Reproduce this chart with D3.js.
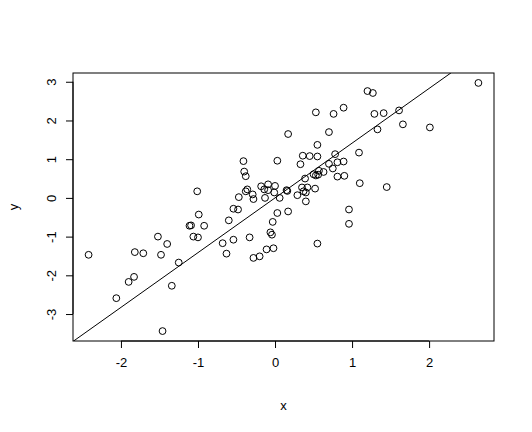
<!DOCTYPE html>
<html>
<head>
<meta charset="utf-8">
<script src="https://cdn.jsdelivr.net/npm/d3@7"></script>
<style>
  body { margin: 0; background: #fff; }
  text { font-family: "Liberation Sans", Arial, sans-serif; }
</style>
</head>
<body>
<script>
const width = 532;
const height = 432;
const margin = {top: 73, right: 38, bottom: 91, left: 73};

// points
const xs = [
  -1.01, -0.99, -1.11, -1.09, -0.92, -1.52, -1.06, -1.00, -1.40, -2.42,
  -1.82, -1.71, -1.48, -1.25, -1.83, -1.90, -1.34, -2.06, -1.46,
  -0.41, 0.03, -0.40, -0.38, -0.36, -0.38, -0.29, -0.28, -0.47, -0.18,
  -0.14, -0.09, -0.09, 0.00, -0.13, -0.01, 0.06, 0.15, 0.16, -0.54,
  -0.48, -0.60, 0.03, 0.17, -0.03, -0.06, -0.04, -0.68, -0.54, -0.33,
  -0.63, -0.11, -0.02, -0.28, -0.20,
  1.20, 1.27, 0.53, 0.76, 0.89, 1.29, 1.41, 1.61, 1.33, 0.70,
  0.17, 0.55, 0.36, 0.45, 0.55, 0.78, 1.09, 0.33, 0.89, 0.81,
  0.70, 0.75, 0.63, 0.57, 0.50, 0.53, 0.56, 0.81, 0.90, 0.39,
  1.10, 1.45, 0.35, 0.42, 0.52, 0.37, 0.40, 0.29, 0.40, 0.96,
  0.96, 0.55, 1.66, 2.01, 2.64
];
const ys = [
  0.17, -0.43, -0.72, -0.71, -0.72, -1.00, -1.00, -1.02, -1.19, -1.47,
  -1.40, -1.43, -1.47, -1.67, -2.04, -2.17, -2.27, -2.59, -3.44,
  0.95, 0.96, 0.68, 0.56, 0.22, 0.17, 0.09, -0.03, 0.02, 0.30,
  0.22, 0.35, 0.20, 0.31, 0.00, 0.14, 0.00, 0.20, 0.18, -0.28,
  -0.30, -0.58, -0.39, -0.35, -0.62, -0.89, -0.95, -1.17, -1.08, -1.02,
  -1.44, -1.33, -1.30, -1.55, -1.51,
  2.76, 2.71, 2.21, 2.17, 2.33, 2.17, 2.19, 2.26, 1.77, 1.70,
  1.65, 1.37, 1.09, 1.08, 1.07, 1.13, 1.17, 0.87, 0.94, 0.92,
  0.88, 0.76, 0.67, 0.70, 0.61, 0.58, 0.60, 0.55, 0.57, 0.50,
  0.38, 0.28, 0.27, 0.27, 0.24, 0.17, 0.14, 0.07, -0.09, -0.30,
  -0.67, -1.18, 1.90, 1.82, 2.97
];
const xTicks = [-2, -1, 0, 1, 2];
const yTicks = [-3, -2, -1, 0, 1, 2, 3];
const lineIntercept = 0;
const lineSlope = 1.414;

const data = xs.map((d, i) => ({x: d, y: ys[i]}));

// R style: 4% padding on each side of the data range
const pad = ([a, b]) => [a - (b - a) * 0.04, b + (b - a) * 0.04];

const x = d3.scaleLinear()
  .domain(pad(d3.extent(xs)))
  .range([margin.left, width - margin.right]);

const y = d3.scaleLinear()
  .domain(pad(d3.extent(ys)))
  .range([height - margin.bottom, margin.top]);

// plain hyphen for negatives, like R
const fmt = d => String(d);

const xAxis = g => g
  .attr("transform", `translate(0,${height - margin.bottom})`)
  .call(d3.axisBottom(x).tickValues(xTicks).tickFormat(fmt).tickSize(7).tickSizeOuter(0))
  .call(g => g.select(".domain").attr("d", `M${x(xTicks[0])},0H${x(xTicks[xTicks.length - 1])}`))
  .call(g => g.selectAll("text").attr("font-size", 13).attr("font-family", "Liberation Sans, Arial, sans-serif")
    .attr("fill", "#000").attr("y", 17));

const yAxis = g => g
  .attr("transform", `translate(${margin.left},0)`)
  .call(d3.axisLeft(y).tickValues(yTicks).tickFormat(fmt).tickSize(7).tickSizeOuter(0))
  .call(g => g.select(".domain").attr("d", `M0,${y(yTicks[0])}V${y(yTicks[yTicks.length - 1])}`))
  .call(g => g.selectAll("text").attr("font-size", 13).attr("font-family", "Liberation Sans, Arial, sans-serif")
    .attr("fill", "#000")
    .attr("x", null)
    .attr("text-anchor", "middle")
    .attr("transform", "translate(-22,0) rotate(-90)")
    .attr("dy", "0.35em"));

const svg = d3.select("body").append("svg")
  .attr("width", width)
  .attr("height", height);

svg.append("defs").append("clipPath").attr("id", "plot-area")
  .append("rect")
  .attr("x", margin.left).attr("y", margin.top)
  .attr("width", width - margin.left - margin.right)
  .attr("height", height - margin.top - margin.bottom);

svg.append("rect")
  .attr("x", margin.left).attr("y", margin.top)
  .attr("width", width - margin.left - margin.right)
  .attr("height", height - margin.top - margin.bottom)
  .attr("fill", "none")
  .attr("stroke", "#000");

svg.append("g").call(xAxis);
svg.append("g").call(yAxis);

svg.append("g")
  .attr("fill", "none")
  .attr("stroke", "#000")
  .attr("stroke-width", 1)
  .selectAll("circle")
  .data(data)
  .join("circle")
  .attr("cx", d => x(d.x))
  .attr("cy", d => y(d.y))
  .attr("r", 3.4);

const ablineX = x.domain();
const line = d3.line()
  .x(d => x(d))
  .y(d => y(lineIntercept + lineSlope * d));

svg.append("path")
  .datum(ablineX)
  .attr("clip-path", "url(#plot-area)")
  .attr("fill", "none")
  .attr("stroke", "#000")
  .attr("stroke-width", 1)
  .attr("d", line);

svg.append("text")
  .attr("x", (margin.left + width - margin.right) / 2)
  .attr("y", 405)
  .attr("dy", "0.35em")
  .attr("text-anchor", "middle")
  .attr("font-size", 13)
  .text("x");

svg.append("text")
  .attr("transform", `translate(13,${(margin.top + height - margin.bottom) / 2}) rotate(-90)`)
  .attr("dy", "0.35em")
  .attr("text-anchor", "middle")
  .attr("font-size", 13)
  .text("y");
</script>
</body>
</html>
